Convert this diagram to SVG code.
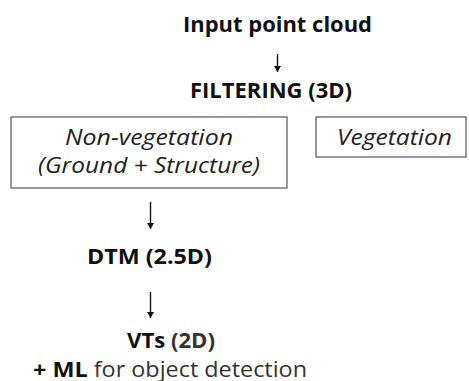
<svg xmlns="http://www.w3.org/2000/svg" width="469" height="381" viewBox="0 0 469 381">
<style>
text{font-family:"Open Sans","DejaVu Sans",sans-serif;fill:#111;}
.b{font-weight:bold;font-size:22px;}
.i{font-style:italic;font-size:21px;fill:#222;}
.r{font-weight:normal;font-size:22px;fill:#333;}
.box{fill:#fff;stroke:#555;stroke-width:1.2;}
.c{stroke:#111;stroke-width:1.4;fill:none;marker-end:url(#ah);}
</style>
<defs>
<marker id="ah" markerWidth="8" markerHeight="8" refX="6" refY="4" orient="auto" markerUnits="userSpaceOnUse">
<path d="M0,0.5 L6,4 L0,7.5 Z" fill="#111"/>
</marker>
</defs>
<rect width="469" height="381" fill="#fff"/>
<g id="connectors">
<line class="c" x1="277.5" y1="54" x2="277.5" y2="72"/>
<line class="c" x1="150.5" y1="202" x2="150.5" y2="229"/>
<line class="c" x1="150.5" y1="292" x2="150.5" y2="318"/>
</g>
<g id="input"><text class="b" x="183" y="31.5" textLength="189" lengthAdjust="spacingAndGlyphs">Input point cloud</text></g>
<g id="filtering"><text class="b" x="190" y="98" textLength="162" lengthAdjust="spacingAndGlyphs">FILTERING (3D)</text></g>
<g id="nonveg">
<rect class="box" x="11" y="117" width="276" height="71"/>
<text class="i" x="65" y="145" textLength="168" lengthAdjust="spacingAndGlyphs">Non-vegetation</text>
<text class="i" x="38" y="173" textLength="222" lengthAdjust="spacingAndGlyphs">(Ground + Structure)</text>
</g>
<g id="veg">
<rect class="box" x="316" y="117" width="150" height="40"/>
<text class="i" x="337" y="145" textLength="115" lengthAdjust="spacingAndGlyphs">Vegetation</text>
</g>
<g id="dtm"><text class="b" x="87" y="263.5" textLength="125" lengthAdjust="spacingAndGlyphs">DTM (2.5D)</text></g>
<g id="vts">
<text x="127" y="347.5" textLength="88" lengthAdjust="spacingAndGlyphs"><tspan class="b">VTs</tspan><tspan class="b" fill="#333"> (2D)</tspan></text>
<text x="33" y="376.5" textLength="274" lengthAdjust="spacingAndGlyphs"><tspan class="b">+ ML</tspan><tspan class="r"> for object detection</tspan></text>
</g>
</svg>
